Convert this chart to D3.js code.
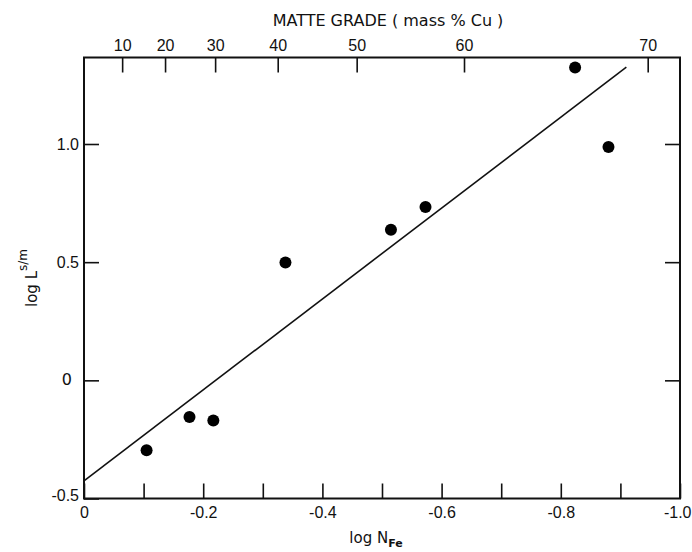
<!DOCTYPE html>
<html lang="en">
<head>
  <meta charset="UTF-8" />
  <title>log L vs log N_Fe</title>
  <script src="https://d3js.org/d3.v7.min.js"></script>
  <style>
    body { margin: 0; background: #fff; }
    svg { display: block; font-family: "DejaVu Sans", sans-serif; }
    .axis line { stroke: #111; stroke-width: 1.6; }
  </style>
</head>
<body>
  <svg width="692" height="552"></svg>

  <script>
    // data
    const logNFe = [-0.105, -0.177, -0.217, -0.338, -0.515, -0.573, -0.824, -0.880];
    const logL   = [-0.296, -0.155, -0.170, 0.499, 0.637, 0.733, 1.324, 0.987];

    // fitted line end points
    const fitX = [0, -0.91];
    const fitY = [-0.425, 1.325];

    // bottom / left ticks
    const xTicks = [0, -0.1, -0.2, -0.3, -0.4, -0.5, -0.6, -0.7, -0.8, -0.9, -1.0];
    const xLabelTicks = [0, -0.2, -0.4, -0.6, -0.8, -1.0];
    const yTicks = [-0.5, 0, 0.5, 1.0];

    // top axis: matte grade (mass % Cu) at their log N_Fe positions
    const matteGrades = [10, 20, 30, 40, 50, 60, 70];
    const matteLogNFe = [-0.064, -0.136, -0.220, -0.325, -0.4575, -0.6376, -0.9458];

    const plotLeft = 84, plotRight = 680, plotTop = 57.5, plotBottom = 498.5;
    const fontSize = 16;

    const svg = d3.select("svg");

    const x = d3.scaleLinear().domain([0, -1.0]).range([plotLeft, plotRight]);
    const y = d3.scaleLinear().domain([-0.5, 1.366]).range([plotBottom, plotTop]);

    const fmt = d => d === 0 ? "0" : d.toFixed(1);

    // bottom axis, ticks pointing inward
    svg.append("g")
      .attr("class", "axis")
      .attr("transform", `translate(0,${plotBottom})`)
      .call(d3.axisBottom(x)
        .tickValues(xTicks)
        .tickSize(-15)
        .tickPadding(8)
        .tickFormat(d => xLabelTicks.some(v => Math.abs(v - d) < 1e-9) ? fmt(d) : ""))
      .call(g => g.select(".domain").remove())
      .call(g => g.selectAll("text").style("font-size", fontSize + "px").attr("fill", "#111"))
      // keep "-1.0" inside the page
      .call(g => g.selectAll("text").filter(d => d === -1.0)
        .attr("text-anchor", "end")
        .attr("x", 11));

    // left axis
    svg.append("g")
      .attr("class", "axis")
      .attr("transform", `translate(${plotLeft},0)`)
      .call(d3.axisLeft(y)
        .tickValues(yTicks)
        .tickSize(-15)
        .tickPadding(5)
        .tickFormat(d => d === 0 ? "" : fmt(d)))
      .call(g => g.select(".domain").remove())
      .call(g => g.selectAll("text")
        .style("font-size", fontSize + "px")
        .attr("fill", "#111")
        .attr("dy", d => d === -0.5 ? "0.1em" : "0.32em"));

    // the "0" on the y axis sits a bit further out in the original
    svg.append("text")
      .attr("x", plotLeft - 12)
      .attr("y", y(0))
      .attr("dy", "0.32em")
      .attr("text-anchor", "end")
      .style("font-size", fontSize + "px")
      .attr("fill", "#111")
      .text("0");

    // right axis (ticks only)
    svg.append("g")
      .attr("class", "axis")
      .attr("transform", `translate(${plotRight},0)`)
      .call(d3.axisRight(y)
        .tickValues(yTicks.filter(d => d > -0.5))
        .tickSize(-15)
        .tickFormat(""))
      .call(g => g.select(".domain").remove());

    // top axis: matte grade
    svg.append("g")
      .attr("class", "axis")
      .attr("transform", `translate(0,${plotTop})`)
      .call(d3.axisTop(x)
        .tickValues(matteLogNFe)
        .tickSize(-15)
        .tickPadding(7)
        .tickFormat((d, i) => matteGrades[i]))
      .call(g => g.select(".domain").remove())
      .call(g => g.selectAll("text").style("font-size", fontSize + "px").attr("fill", "#111"));

    // frame
    svg.append("rect")
      .attr("x", plotLeft)
      .attr("y", plotTop)
      .attr("width", plotRight - plotLeft)
      .attr("height", plotBottom - plotTop)
      .attr("fill", "none")
      .attr("stroke", "#111")
      .attr("stroke-width", 2);

    // fitted line
    svg.append("path")
      .datum(fitX.map((v, i) => [v, fitY[i]]))
      .attr("fill", "none")
      .attr("stroke", "#111")
      .attr("stroke-width", 1.6)
      .attr("d", d3.line().x(d => x(d[0])).y(d => y(d[1])));

    // points
    svg.selectAll(".dot")
      .data(logNFe.map((v, i) => [v, logL[i]]))
      .enter().append("circle")
      .attr("class", "dot")
      .attr("cx", d => x(d[0]))
      .attr("cy", d => y(d[1]))
      .attr("r", 6)
      .attr("fill", "#000");

    // top title
    svg.append("text")
      .attr("x", 388)
      .attr("y", 26)
      .attr("text-anchor", "middle")
      .style("font-size", fontSize + "px")
      .attr("fill", "#111")
      .text("MATTE GRADE ( mass % Cu )");

    // x label: log N_Fe
    const xl = svg.append("text")
      .attr("x", 376)
      .attr("y", 543)
      .attr("text-anchor", "middle")
      .style("font-size", "15px")
      .attr("fill", "#111");
    xl.append("tspan").text("log N");
    xl.append("tspan")
      .style("font-size", "11px")
      .attr("font-weight", "bold")
      .attr("dy", 4)
      .text("Fe");

    // y label: log L^{s/m}
    const yl = svg.append("text")
      .attr("transform", "translate(37,278) rotate(-90)")
      .attr("text-anchor", "middle")
      .style("font-size", "15px")
      .attr("fill", "#111");
    yl.append("tspan").text("log L");
    yl.append("tspan")
      .style("font-size", "12px")
      .attr("dy", -10)
      .text("s/m");
  </script>
</body>
</html>
